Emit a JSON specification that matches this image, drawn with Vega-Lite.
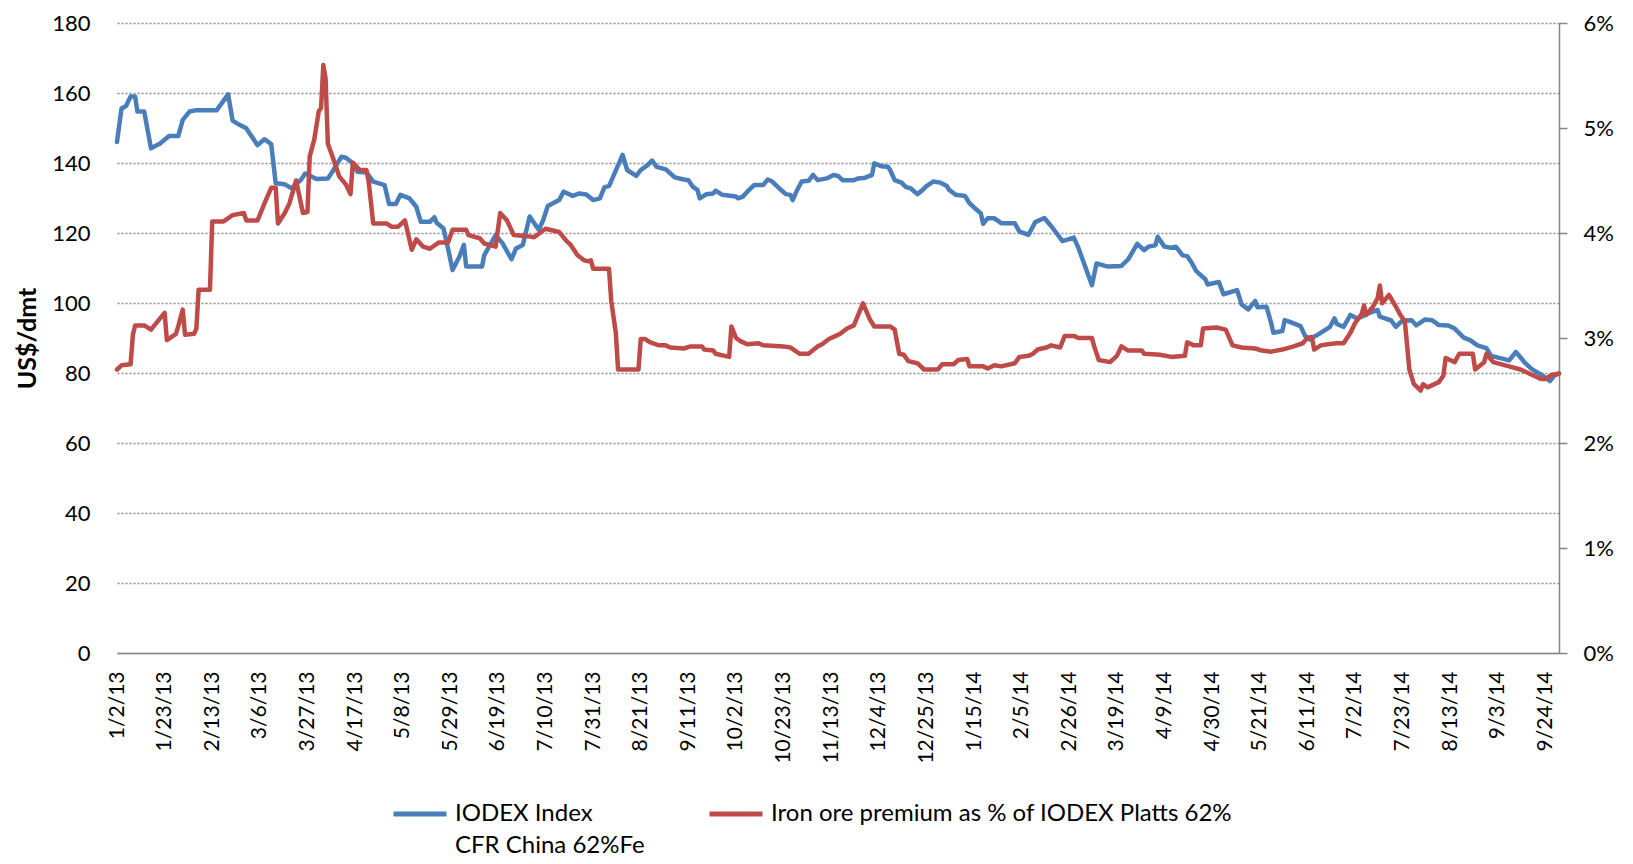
{
  "$schema": "https://vega.github.io/schema/vega-lite/v6.json",
  "width": 1442,
  "height": 630,
  "autosize": {"type": "none"},
  "padding": {"left": 117, "top": 23, "right": 74, "bottom": 211},
  "background": "white",
  "config": {"view": {"stroke": null}, "style": {"guide-label": {"lineHeight": 32}}},
  "datasets": {
    "iodex": [
      {"date": "2013-01-02", "value": 146},
      {"date": "2013-01-04", "value": 155.6},
      {"date": "2013-01-06", "value": 156.3},
      {"date": "2013-01-08", "value": 159},
      {"date": "2013-01-10", "value": 159},
      {"date": "2013-01-11", "value": 154.7},
      {"date": "2013-01-14", "value": 154.7},
      {"date": "2013-01-17", "value": 144.2},
      {"date": "2013-01-21", "value": 145.6},
      {"date": "2013-01-25", "value": 147.7},
      {"date": "2013-01-29", "value": 147.7},
      {"date": "2013-01-31", "value": 152.3},
      {"date": "2013-02-03", "value": 154.7},
      {"date": "2013-02-06", "value": 155.1},
      {"date": "2013-02-15", "value": 155.1},
      {"date": "2013-02-20", "value": 159.6},
      {"date": "2013-02-22", "value": 152.1},
      {"date": "2013-02-25", "value": 150.9},
      {"date": "2013-02-28", "value": 149.9},
      {"date": "2013-03-05", "value": 145.1},
      {"date": "2013-03-08", "value": 146.8},
      {"date": "2013-03-11", "value": 145.4},
      {"date": "2013-03-13", "value": 134.2},
      {"date": "2013-03-17", "value": 133.9},
      {"date": "2013-03-20", "value": 132.8},
      {"date": "2013-03-24", "value": 135.1},
      {"date": "2013-03-26", "value": 137.0},
      {"date": "2013-03-31", "value": 135.4},
      {"date": "2013-04-05", "value": 135.6},
      {"date": "2013-04-07", "value": 137.5},
      {"date": "2013-04-11", "value": 141.8},
      {"date": "2013-04-13", "value": 141.5},
      {"date": "2013-04-16", "value": 139.9},
      {"date": "2013-04-18", "value": 137.5},
      {"date": "2013-04-22", "value": 137.3},
      {"date": "2013-04-25", "value": 134.7},
      {"date": "2013-04-30", "value": 133.7},
      {"date": "2013-05-02", "value": 128.3},
      {"date": "2013-05-05", "value": 128.3},
      {"date": "2013-05-07", "value": 130.9},
      {"date": "2013-05-11", "value": 129.9},
      {"date": "2013-05-14", "value": 127.5},
      {"date": "2013-05-16", "value": 123.2},
      {"date": "2013-05-20", "value": 123.2},
      {"date": "2013-05-22", "value": 124.5},
      {"date": "2013-05-23", "value": 122.9},
      {"date": "2013-05-26", "value": 121.3},
      {"date": "2013-05-28", "value": 115.6},
      {"date": "2013-05-30", "value": 109.4},
      {"date": "2013-06-02", "value": 113.2},
      {"date": "2013-06-04", "value": 116.6},
      {"date": "2013-06-05", "value": 110.4},
      {"date": "2013-06-12", "value": 110.4},
      {"date": "2013-06-13", "value": 113.7},
      {"date": "2013-06-18", "value": 119.4},
      {"date": "2013-06-21", "value": 117.1},
      {"date": "2013-06-25", "value": 112.5},
      {"date": "2013-06-27", "value": 115.6},
      {"date": "2013-06-30", "value": 116.6},
      {"date": "2013-07-03", "value": 124.7},
      {"date": "2013-07-07", "value": 120.9},
      {"date": "2013-07-09", "value": 123.7},
      {"date": "2013-07-11", "value": 127.7},
      {"date": "2013-07-16", "value": 129.4},
      {"date": "2013-07-18", "value": 131.8},
      {"date": "2013-07-22", "value": 130.6},
      {"date": "2013-07-25", "value": 131.3},
      {"date": "2013-07-28", "value": 131.0},
      {"date": "2013-07-31", "value": 129.4},
      {"date": "2013-08-03", "value": 129.9},
      {"date": "2013-08-05", "value": 133.1},
      {"date": "2013-08-07", "value": 133.4},
      {"date": "2013-08-13", "value": 142.3},
      {"date": "2013-08-15", "value": 138.0},
      {"date": "2013-08-19", "value": 136.3},
      {"date": "2013-08-21", "value": 138.0},
      {"date": "2013-08-24", "value": 139.4},
      {"date": "2013-08-26", "value": 140.7},
      {"date": "2013-08-28", "value": 138.9},
      {"date": "2013-09-01", "value": 138.2},
      {"date": "2013-09-05", "value": 135.9},
      {"date": "2013-09-09", "value": 135.3},
      {"date": "2013-09-11", "value": 135.1},
      {"date": "2013-09-13", "value": 133.2},
      {"date": "2013-09-15", "value": 132.3},
      {"date": "2013-09-16", "value": 129.9},
      {"date": "2013-09-19", "value": 131.1},
      {"date": "2013-09-22", "value": 131.3},
      {"date": "2013-09-23", "value": 132.1},
      {"date": "2013-09-26", "value": 130.9},
      {"date": "2013-10-02", "value": 130.4},
      {"date": "2013-10-03", "value": 129.9},
      {"date": "2013-10-05", "value": 130.4},
      {"date": "2013-10-07", "value": 131.8},
      {"date": "2013-10-10", "value": 133.7},
      {"date": "2013-10-14", "value": 133.7},
      {"date": "2013-10-16", "value": 135.3},
      {"date": "2013-10-18", "value": 134.7},
      {"date": "2013-10-21", "value": 132.8},
      {"date": "2013-10-24", "value": 131.1},
      {"date": "2013-10-26", "value": 130.9},
      {"date": "2013-10-27", "value": 129.4},
      {"date": "2013-10-29", "value": 132.3},
      {"date": "2013-10-31", "value": 134.7},
      {"date": "2013-11-03", "value": 134.9},
      {"date": "2013-11-05", "value": 136.6},
      {"date": "2013-11-07", "value": 135.1},
      {"date": "2013-11-11", "value": 135.6},
      {"date": "2013-11-14", "value": 136.6},
      {"date": "2013-11-16", "value": 136.3},
      {"date": "2013-11-18", "value": 135.1},
      {"date": "2013-11-23", "value": 135.1},
      {"date": "2013-11-25", "value": 135.6},
      {"date": "2013-11-28", "value": 135.8},
      {"date": "2013-12-01", "value": 136.6},
      {"date": "2013-12-02", "value": 139.9},
      {"date": "2013-12-05", "value": 139.1},
      {"date": "2013-12-08", "value": 138.9},
      {"date": "2013-12-09", "value": 138.0},
      {"date": "2013-12-11", "value": 135.1},
      {"date": "2013-12-14", "value": 134.4},
      {"date": "2013-12-16", "value": 133.1},
      {"date": "2013-12-18", "value": 132.8},
      {"date": "2013-12-21", "value": 131.1},
      {"date": "2013-12-23", "value": 132.1},
      {"date": "2013-12-25", "value": 133.4},
      {"date": "2013-12-28", "value": 134.7},
      {"date": "2013-12-31", "value": 134.4},
      {"date": "2014-01-03", "value": 133.4},
      {"date": "2014-01-04", "value": 132.3},
      {"date": "2014-01-07", "value": 130.9},
      {"date": "2014-01-11", "value": 130.6},
      {"date": "2014-01-13", "value": 128.5},
      {"date": "2014-01-15", "value": 127.3},
      {"date": "2014-01-18", "value": 125.6},
      {"date": "2014-01-19", "value": 122.6},
      {"date": "2014-01-21", "value": 124.2},
      {"date": "2014-01-24", "value": 124.2},
      {"date": "2014-01-27", "value": 122.8},
      {"date": "2014-02-02", "value": 122.8},
      {"date": "2014-02-04", "value": 120.4},
      {"date": "2014-02-08", "value": 119.5},
      {"date": "2014-02-11", "value": 123.1},
      {"date": "2014-02-15", "value": 124.3},
      {"date": "2014-02-18", "value": 122.0},
      {"date": "2014-02-23", "value": 117.7},
      {"date": "2014-02-28", "value": 118.7},
      {"date": "2014-03-02", "value": 115.8},
      {"date": "2014-03-08", "value": 105.1},
      {"date": "2014-03-10", "value": 111.3},
      {"date": "2014-03-15", "value": 110.4},
      {"date": "2014-03-18", "value": 110.5},
      {"date": "2014-03-21", "value": 110.6},
      {"date": "2014-03-24", "value": 112.5},
      {"date": "2014-03-28", "value": 116.9},
      {"date": "2014-03-31", "value": 115.1},
      {"date": "2014-04-02", "value": 116.1},
      {"date": "2014-04-05", "value": 116.5},
      {"date": "2014-04-06", "value": 118.9},
      {"date": "2014-04-09", "value": 116.1},
      {"date": "2014-04-12", "value": 115.8},
      {"date": "2014-04-14", "value": 116.1},
      {"date": "2014-04-17", "value": 113.6},
      {"date": "2014-04-19", "value": 113.4},
      {"date": "2014-04-21", "value": 111.5},
      {"date": "2014-04-23", "value": 109.1},
      {"date": "2014-04-27", "value": 106.8},
      {"date": "2014-04-28", "value": 105.3},
      {"date": "2014-05-03", "value": 106.0},
      {"date": "2014-05-05", "value": 102.5},
      {"date": "2014-05-11", "value": 103.7},
      {"date": "2014-05-13", "value": 99.6},
      {"date": "2014-05-16", "value": 98.2},
      {"date": "2014-05-19", "value": 100.6},
      {"date": "2014-05-20", "value": 98.8},
      {"date": "2014-05-24", "value": 98.9},
      {"date": "2014-05-26", "value": 94.4},
      {"date": "2014-05-27", "value": 91.5},
      {"date": "2014-05-31", "value": 92.0},
      {"date": "2014-06-01", "value": 95.1},
      {"date": "2014-06-03", "value": 94.7},
      {"date": "2014-06-08", "value": 93.4},
      {"date": "2014-06-10", "value": 90.6},
      {"date": "2014-06-12", "value": 89.6},
      {"date": "2014-06-16", "value": 91.1},
      {"date": "2014-06-21", "value": 93.2},
      {"date": "2014-06-23", "value": 95.6},
      {"date": "2014-06-24", "value": 94.0},
      {"date": "2014-06-27", "value": 93.2},
      {"date": "2014-06-30", "value": 96.6},
      {"date": "2014-07-03", "value": 95.6},
      {"date": "2014-07-05", "value": 96.1},
      {"date": "2014-07-08", "value": 97.1},
      {"date": "2014-07-12", "value": 98.0},
      {"date": "2014-07-13", "value": 96.1},
      {"date": "2014-07-18", "value": 95.0},
      {"date": "2014-07-20", "value": 93.2},
      {"date": "2014-07-23", "value": 95.0},
      {"date": "2014-07-27", "value": 95.1},
      {"date": "2014-07-29", "value": 93.6},
      {"date": "2014-08-02", "value": 95.3},
      {"date": "2014-08-05", "value": 95.1},
      {"date": "2014-08-08", "value": 93.7},
      {"date": "2014-08-12", "value": 93.6},
      {"date": "2014-08-15", "value": 92.7},
      {"date": "2014-08-19", "value": 90.1},
      {"date": "2014-08-22", "value": 89.3},
      {"date": "2014-08-25", "value": 87.9},
      {"date": "2014-08-29", "value": 87.1},
      {"date": "2014-08-31", "value": 84.9},
      {"date": "2014-09-05", "value": 84.1},
      {"date": "2014-09-08", "value": 83.6},
      {"date": "2014-09-11", "value": 86.0},
      {"date": "2014-09-15", "value": 82.9},
      {"date": "2014-09-18", "value": 81.1},
      {"date": "2014-09-22", "value": 79.6},
      {"date": "2014-09-26", "value": 77.7},
      {"date": "2014-09-28", "value": 79.3},
      {"date": "2014-09-30", "value": 79.9}
    ],
    "premium": [
      {"date": "2013-01-02", "value": 2.70},
      {"date": "2013-01-04", "value": 2.74},
      {"date": "2013-01-08", "value": 2.75},
      {"date": "2013-01-09", "value": 3.03},
      {"date": "2013-01-10", "value": 3.12},
      {"date": "2013-01-14", "value": 3.12},
      {"date": "2013-01-17", "value": 3.08},
      {"date": "2013-01-20", "value": 3.16},
      {"date": "2013-01-23", "value": 3.24},
      {"date": "2013-01-24", "value": 2.98},
      {"date": "2013-01-28", "value": 3.04},
      {"date": "2013-01-29", "value": 3.11},
      {"date": "2013-01-31", "value": 3.27},
      {"date": "2013-02-01", "value": 3.03},
      {"date": "2013-02-05", "value": 3.04},
      {"date": "2013-02-06", "value": 3.09},
      {"date": "2013-02-07", "value": 3.46},
      {"date": "2013-02-12", "value": 3.46},
      {"date": "2013-02-13", "value": 4.11},
      {"date": "2013-02-18", "value": 4.11},
      {"date": "2013-02-22", "value": 4.17},
      {"date": "2013-02-27", "value": 4.19},
      {"date": "2013-02-28", "value": 4.12},
      {"date": "2013-03-05", "value": 4.12},
      {"date": "2013-03-08", "value": 4.28},
      {"date": "2013-03-11", "value": 4.43},
      {"date": "2013-03-13", "value": 4.43},
      {"date": "2013-03-14", "value": 4.09},
      {"date": "2013-03-17", "value": 4.19},
      {"date": "2013-03-19", "value": 4.28},
      {"date": "2013-03-22", "value": 4.50},
      {"date": "2013-03-25", "value": 4.19},
      {"date": "2013-03-27", "value": 4.20},
      {"date": "2013-03-28", "value": 4.73},
      {"date": "2013-03-30", "value": 4.89},
      {"date": "2013-04-01", "value": 5.16},
      {"date": "2013-04-02", "value": 5.19},
      {"date": "2013-04-03", "value": 5.60},
      {"date": "2013-04-04", "value": 5.47},
      {"date": "2013-04-05", "value": 4.85},
      {"date": "2013-04-07", "value": 4.73},
      {"date": "2013-04-10", "value": 4.54},
      {"date": "2013-04-13", "value": 4.46},
      {"date": "2013-04-15", "value": 4.37},
      {"date": "2013-04-16", "value": 4.67},
      {"date": "2013-04-19", "value": 4.60},
      {"date": "2013-04-22", "value": 4.60},
      {"date": "2013-04-23", "value": 4.49},
      {"date": "2013-04-25", "value": 4.09},
      {"date": "2013-05-01", "value": 4.09},
      {"date": "2013-05-03", "value": 4.06},
      {"date": "2013-05-06", "value": 4.06},
      {"date": "2013-05-09", "value": 4.12},
      {"date": "2013-05-12", "value": 3.84},
      {"date": "2013-05-14", "value": 3.94},
      {"date": "2013-05-17", "value": 3.87},
      {"date": "2013-05-20", "value": 3.85},
      {"date": "2013-05-24", "value": 3.91},
      {"date": "2013-05-28", "value": 3.91},
      {"date": "2013-05-30", "value": 4.03},
      {"date": "2013-06-05", "value": 4.03},
      {"date": "2013-06-06", "value": 3.98},
      {"date": "2013-06-11", "value": 3.95},
      {"date": "2013-06-13", "value": 3.90},
      {"date": "2013-06-18", "value": 3.87},
      {"date": "2013-06-20", "value": 4.19},
      {"date": "2013-06-23", "value": 4.12},
      {"date": "2013-06-26", "value": 3.98},
      {"date": "2013-07-02", "value": 3.97},
      {"date": "2013-07-05", "value": 3.96},
      {"date": "2013-07-10", "value": 4.04},
      {"date": "2013-07-16", "value": 4.01},
      {"date": "2013-07-19", "value": 3.93},
      {"date": "2013-07-21", "value": 3.89},
      {"date": "2013-07-24", "value": 3.79},
      {"date": "2013-07-27", "value": 3.74},
      {"date": "2013-07-29", "value": 3.73},
      {"date": "2013-07-30", "value": 3.74},
      {"date": "2013-07-31", "value": 3.66},
      {"date": "2013-08-07", "value": 3.66},
      {"date": "2013-08-08", "value": 3.35},
      {"date": "2013-08-10", "value": 3.05},
      {"date": "2013-08-11", "value": 2.70},
      {"date": "2013-08-20", "value": 2.70},
      {"date": "2013-08-21", "value": 2.99},
      {"date": "2013-08-23", "value": 2.99},
      {"date": "2013-08-25", "value": 2.96},
      {"date": "2013-08-29", "value": 2.93},
      {"date": "2013-09-01", "value": 2.93},
      {"date": "2013-09-03", "value": 2.91},
      {"date": "2013-09-09", "value": 2.90},
      {"date": "2013-09-12", "value": 2.92},
      {"date": "2013-09-17", "value": 2.92},
      {"date": "2013-09-18", "value": 2.89},
      {"date": "2013-09-22", "value": 2.88},
      {"date": "2013-09-23", "value": 2.85},
      {"date": "2013-09-29", "value": 2.82},
      {"date": "2013-09-30", "value": 3.11},
      {"date": "2013-10-02", "value": 3.00},
      {"date": "2013-10-04", "value": 2.97},
      {"date": "2013-10-07", "value": 2.94},
      {"date": "2013-10-12", "value": 2.95},
      {"date": "2013-10-14", "value": 2.93},
      {"date": "2013-10-23", "value": 2.92},
      {"date": "2013-10-26", "value": 2.91},
      {"date": "2013-10-30", "value": 2.85},
      {"date": "2013-11-03", "value": 2.85},
      {"date": "2013-11-07", "value": 2.92},
      {"date": "2013-11-09", "value": 2.94},
      {"date": "2013-11-12", "value": 2.99},
      {"date": "2013-11-15", "value": 3.02},
      {"date": "2013-11-17", "value": 3.04},
      {"date": "2013-11-20", "value": 3.09},
      {"date": "2013-11-23", "value": 3.12},
      {"date": "2013-11-27", "value": 3.33},
      {"date": "2013-11-30", "value": 3.18},
      {"date": "2013-12-02", "value": 3.11},
      {"date": "2013-12-09", "value": 3.11},
      {"date": "2013-12-11", "value": 3.08},
      {"date": "2013-12-13", "value": 2.85},
      {"date": "2013-12-15", "value": 2.84},
      {"date": "2013-12-17", "value": 2.78},
      {"date": "2013-12-21", "value": 2.76},
      {"date": "2013-12-24", "value": 2.70},
      {"date": "2013-12-30", "value": 2.70},
      {"date": "2014-01-01", "value": 2.75},
      {"date": "2014-01-06", "value": 2.75},
      {"date": "2014-01-08", "value": 2.79},
      {"date": "2014-01-12", "value": 2.80},
      {"date": "2014-01-13", "value": 2.73},
      {"date": "2014-01-19", "value": 2.73},
      {"date": "2014-01-21", "value": 2.71},
      {"date": "2014-01-24", "value": 2.74},
      {"date": "2014-01-27", "value": 2.73},
      {"date": "2014-02-02", "value": 2.76},
      {"date": "2014-02-04", "value": 2.82},
      {"date": "2014-02-08", "value": 2.83},
      {"date": "2014-02-10", "value": 2.85},
      {"date": "2014-02-12", "value": 2.89},
      {"date": "2014-02-16", "value": 2.91},
      {"date": "2014-02-18", "value": 2.93},
      {"date": "2014-02-22", "value": 2.91},
      {"date": "2014-02-24", "value": 3.02},
      {"date": "2014-02-28", "value": 3.02},
      {"date": "2014-03-02", "value": 3.00},
      {"date": "2014-03-08", "value": 3.00},
      {"date": "2014-03-09", "value": 2.92},
      {"date": "2014-03-11", "value": 2.79},
      {"date": "2014-03-16", "value": 2.77},
      {"date": "2014-03-19", "value": 2.83},
      {"date": "2014-03-21", "value": 2.92},
      {"date": "2014-03-24", "value": 2.88},
      {"date": "2014-03-30", "value": 2.88},
      {"date": "2014-03-31", "value": 2.85},
      {"date": "2014-04-07", "value": 2.84},
      {"date": "2014-04-12", "value": 2.82},
      {"date": "2014-04-18", "value": 2.83},
      {"date": "2014-04-19", "value": 2.96},
      {"date": "2014-04-22", "value": 2.93},
      {"date": "2014-04-25", "value": 2.93},
      {"date": "2014-04-26", "value": 3.09},
      {"date": "2014-05-02", "value": 3.10},
      {"date": "2014-05-06", "value": 3.08},
      {"date": "2014-05-09", "value": 2.93},
      {"date": "2014-05-13", "value": 2.91},
      {"date": "2014-05-19", "value": 2.90},
      {"date": "2014-05-22", "value": 2.88},
      {"date": "2014-05-26", "value": 2.87},
      {"date": "2014-05-31", "value": 2.89},
      {"date": "2014-06-05", "value": 2.92},
      {"date": "2014-06-09", "value": 2.95},
      {"date": "2014-06-11", "value": 3.00},
      {"date": "2014-06-13", "value": 3.01},
      {"date": "2014-06-14", "value": 2.89},
      {"date": "2014-06-17", "value": 2.93},
      {"date": "2014-06-20", "value": 2.94},
      {"date": "2014-06-24", "value": 2.95},
      {"date": "2014-06-27", "value": 2.95},
      {"date": "2014-06-30", "value": 3.05},
      {"date": "2014-07-02", "value": 3.14},
      {"date": "2014-07-05", "value": 3.23},
      {"date": "2014-07-06", "value": 3.31},
      {"date": "2014-07-07", "value": 3.22},
      {"date": "2014-07-10", "value": 3.30},
      {"date": "2014-07-12", "value": 3.38},
      {"date": "2014-07-13", "value": 3.50},
      {"date": "2014-07-14", "value": 3.33},
      {"date": "2014-07-17", "value": 3.41},
      {"date": "2014-07-20", "value": 3.30},
      {"date": "2014-07-22", "value": 3.22},
      {"date": "2014-07-24", "value": 3.16},
      {"date": "2014-07-26", "value": 2.70},
      {"date": "2014-07-28", "value": 2.56},
      {"date": "2014-07-31", "value": 2.50},
      {"date": "2014-08-01", "value": 2.56},
      {"date": "2014-08-03", "value": 2.53},
      {"date": "2014-08-08", "value": 2.58},
      {"date": "2014-08-10", "value": 2.64},
      {"date": "2014-08-11", "value": 2.81},
      {"date": "2014-08-15", "value": 2.77},
      {"date": "2014-08-17", "value": 2.85},
      {"date": "2014-08-23", "value": 2.85},
      {"date": "2014-08-24", "value": 2.70},
      {"date": "2014-08-28", "value": 2.77},
      {"date": "2014-08-29", "value": 2.85},
      {"date": "2014-09-01", "value": 2.77},
      {"date": "2014-09-08", "value": 2.73},
      {"date": "2014-09-13", "value": 2.70},
      {"date": "2014-09-18", "value": 2.65},
      {"date": "2014-09-22", "value": 2.61},
      {"date": "2014-09-24", "value": 2.61},
      {"date": "2014-09-27", "value": 2.65},
      {"date": "2014-09-30", "value": 2.66}
    ]
  },
  "encoding": {
    "x": {
      "field": "date",
      "type": "temporal",
      "scale": {
        "type": "utc",
        "domain": [
          {"year": 2013, "month": 1, "date": 2, "utc": true},
          {"year": 2014, "month": 9, "date": 30, "utc": true}
        ]
      },
      "axis": {
        "title": null,
        "grid": false,
        "ticks": false,
        "tickSize": 0,
        "domain": true,
        "domainColor": "#868686",
        "domainWidth": 1.5,
        "labelAngle": 270,
        "labelAlign": "right",
        "labelBaseline": "middle",
        "labelPadding": 18,
        "labelFont": "Lato",
        "labelFontSize": 21,
        "labelColor": "#000000",
        "labelOverlap": false,
        "labelFlush": false,
        "labelBound": false,
        "labelExpr": "utcFormat(datum.value, '%-m/%-d/%y')",
        "values": [
          {"year": 2013, "month": 1, "date": 2, "utc": true},
          {"year": 2013, "month": 1, "date": 23, "utc": true},
          {"year": 2013, "month": 2, "date": 13, "utc": true},
          {"year": 2013, "month": 3, "date": 6, "utc": true},
          {"year": 2013, "month": 3, "date": 27, "utc": true},
          {"year": 2013, "month": 4, "date": 17, "utc": true},
          {"year": 2013, "month": 5, "date": 8, "utc": true},
          {"year": 2013, "month": 5, "date": 29, "utc": true},
          {"year": 2013, "month": 6, "date": 19, "utc": true},
          {"year": 2013, "month": 7, "date": 10, "utc": true},
          {"year": 2013, "month": 7, "date": 31, "utc": true},
          {"year": 2013, "month": 8, "date": 21, "utc": true},
          {"year": 2013, "month": 9, "date": 11, "utc": true},
          {"year": 2013, "month": 10, "date": 2, "utc": true},
          {"year": 2013, "month": 10, "date": 23, "utc": true},
          {"year": 2013, "month": 11, "date": 13, "utc": true},
          {"year": 2013, "month": 12, "date": 4, "utc": true},
          {"year": 2013, "month": 12, "date": 25, "utc": true},
          {"year": 2014, "month": 1, "date": 15, "utc": true},
          {"year": 2014, "month": 2, "date": 5, "utc": true},
          {"year": 2014, "month": 2, "date": 26, "utc": true},
          {"year": 2014, "month": 3, "date": 19, "utc": true},
          {"year": 2014, "month": 4, "date": 9, "utc": true},
          {"year": 2014, "month": 4, "date": 30, "utc": true},
          {"year": 2014, "month": 5, "date": 21, "utc": true},
          {"year": 2014, "month": 6, "date": 11, "utc": true},
          {"year": 2014, "month": 7, "date": 2, "utc": true},
          {"year": 2014, "month": 7, "date": 23, "utc": true},
          {"year": 2014, "month": 8, "date": 13, "utc": true},
          {"year": 2014, "month": 9, "date": 3, "utc": true},
          {"year": 2014, "month": 9, "date": 24, "utc": true}
        ]
      }
    }
  },
  "layer": [
    {
      "data": {"name": "iodex"},
      "mark": {"type": "line", "strokeWidth": 4.5, "strokeJoin": "round", "strokeCap": "round"},
      "encoding": {
        "y": {
          "field": "value",
          "type": "quantitative",
          "scale": {"domain": [0, 180], "nice": false, "zero": true},
          "axis": {
            "title": "US$/dmt",
            "titleFont": "Lato",
            "titleFontSize": 25,
            "titleFontWeight": "bold",
            "titleColor": "#000000",
            "titlePadding": 11,
            "values": [0, 20, 40, 60, 80, 100, 120, 140, 160, 180],
            "domain": false,
            "ticks": false,
            "tickSize": 0,
            "labelPadding": 27,
            "labelFont": "Lato",
            "labelFontSize": 22,
            "labelColor": "#000000",
            "grid": true,
            "gridColor": "#8a8a8a",
            "gridWidth": 1.3,
            "gridDash": [2, 2]
          }
        },
        "color": {
          "datum": "IODEX Index",
          "type": "nominal",
          "scale": {
            "domain": ["IODEX Index", "Iron ore premium as % of IODEX Platts 62%"],
            "range": ["#4A7EBB", "#BE4B48"]
          },
          "legend": {
            "orient": "none",
            "direction": "horizontal",
            "legendX": 274,
            "legendY": 762,
            "title": null,
            "symbolType": "stroke",
            "symbolSize": 2809,
            "symbolStrokeWidth": 5,
            "labelFont": "Lato",
            "labelFontSize": 24,
            "labelColor": "#000000",
            "labelOffset": 6,
            "labelLimit": 1000,
            "columnPadding": 54,
            "labelBaseline": "middle",
            "labelExpr": "datum.label == 'IODEX Index' ? ['IODEX Index', 'CFR China 62%Fe'] : [datum.label, '']"
          }
        }
      }
    },
    {
      "data": {"name": "premium"},
      "mark": {"type": "line", "strokeWidth": 4.5, "strokeJoin": "round", "strokeCap": "round"},
      "encoding": {
        "y": {
          "field": "value",
          "type": "quantitative",
          "scale": {"domain": [0, 6], "nice": false},
          "axis": {
            "orient": "right",
            "title": null,
            "values": [0, 1, 2, 3, 4, 5, 6],
            "grid": false,
            "domain": true,
            "domainColor": "#868686",
            "domainWidth": 1.5,
            "ticks": true,
            "tickColor": "#868686",
            "tickWidth": 1.5,
            "tickSize": 8,
            "labelPadding": 16,
            "labelFont": "Lato",
            "labelFontSize": 22,
            "labelColor": "#000000",
            "labelExpr": "datum.value + '%'"
          }
        },
        "color": {"datum": "Iron ore premium as % of IODEX Platts 62%", "type": "nominal"}
      }
    }
  ],
  "resolve": {"scale": {"y": "independent"}}
}
